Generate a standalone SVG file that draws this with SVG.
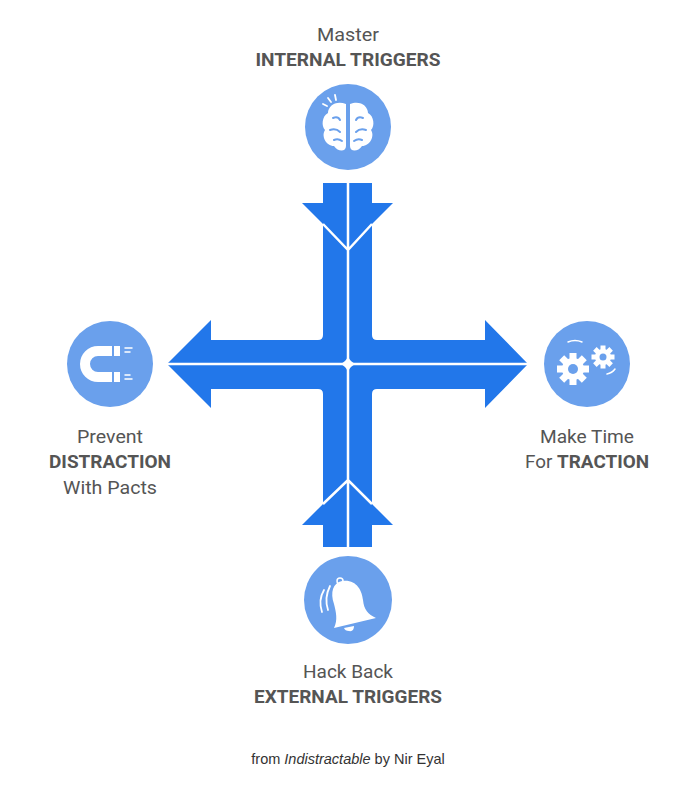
<svg xmlns="http://www.w3.org/2000/svg" width="697" height="790" viewBox="0 0 697 790">
<style>
.t{font-family:Roboto,"Liberation Sans",sans-serif;font-size:19px;fill:#555;text-anchor:middle}
.b{font-weight:bold}
.c{fill:#6aa0ec}
.w{fill:#fff}
.ws{fill:none;stroke:#fff;stroke-linecap:round}
.gap{stroke:#fff;stroke-width:2.5;fill:none}
</style>
<rect width="697" height="790" fill="#fff"/>
<g id="connectors">
<path fill="#2277ea" d="M323,183 H372 V203 H393 L372,224 V335 Q372,340 377,340 H485 V320 L528,364 L485,408 V389 H377 Q372,389 372,394 V504 L393,525 H372 V547 H323 V525 H302 L323,504 V394 Q323,389 318,389 H211 V408 L167,364 L211,320 V340 H318 Q323,340 323,335 V224 L302,203 H323 Z"/>
<path class="gap" d="M348,183 V547 M167,364 H528 M323,224 L348,250 L372,224 M323,504 L348,480 L372,504"/>
<path class="w" d="M348,356 Q350,362 356,364 Q350,366 348,372 Q346,366 340,364 Q346,362 348,356 Z"/>
</g>
<g id="internal">
<circle class="c" cx="348" cy="127" r="43"/>
<path class="w" d="M346,104 C336,100 328,106 328,113 C322,116 321,126 325,130 C321,136 326,146 334,146 C338,152 346,152 346,146 Z M350,104 C360,100 368,106 368,113 C374,116 375,126 371,130 C375,136 370,146 362,146 C358,152 350,152 350,146 Z"/>
<path class="ws" style="stroke:#6aa0ec" stroke-width="2" d="M333,118 Q338,116 340,120 M356,120 Q358,116 363,118 M330,130 Q336,128 340,132 M356,132 Q360,128 366,130 M334,140 Q338,138 342,141 M354,141 Q358,138 362,140"/>
<path class="ws" stroke-width="1.8" d="M328,98 L331,102 M335,95 L336,100 M323,104 L327,106"/>
<text class="t" x="348" y="41" textLength="62" lengthAdjust="spacingAndGlyphs">Master</text>
<text class="t b" x="348" y="66" textLength="185" lengthAdjust="spacingAndGlyphs">INTERNAL TRIGGERS</text>
</g>
<g id="distraction">
<circle class="c" cx="110" cy="364" r="43"/>
<path class="w" d="M112,346 H98 A18,18 0 0 0 98,382 H112 V372 H98 A8,8 0 0 1 98,356 H112 Z"/>
<rect class="c" x="113" y="346" width="1" height="36"/>
<rect class="w" x="114" y="346" width="6" height="10"/>
<rect class="w" x="114" y="372" width="6" height="10"/>
<path class="ws" stroke-width="1.5" d="M125,348 H132 M125,352 H130 M125,375 H130 M125,379 H132"/>
<text class="t" x="110" y="443" textLength="66" lengthAdjust="spacingAndGlyphs">Prevent</text>
<text class="t b" x="110" y="468" textLength="122" lengthAdjust="spacingAndGlyphs">DISTRACTION</text>
<text class="t" x="110" y="494" textLength="94" lengthAdjust="spacingAndGlyphs">With Pacts</text>
</g>
<g id="traction">
<circle class="c" cx="587" cy="364" r="43"/>
<g transform="translate(573,369)">
<circle class="w" r="11"/>
<g class="w"><rect x="-3.5" y="-16" width="7" height="32"/><rect x="-3.5" y="-16" width="7" height="32" transform="rotate(45)"/><rect x="-3.5" y="-16" width="7" height="32" transform="rotate(90)"/><rect x="-3.5" y="-16" width="7" height="32" transform="rotate(135)"/></g>
<circle class="c" r="5"/>
</g>
<g transform="translate(603,357)">
<circle class="w" r="8"/>
<g class="w"><rect x="-2.5" y="-11.5" width="5" height="23"/><rect x="-2.5" y="-11.5" width="5" height="23" transform="rotate(45)"/><rect x="-2.5" y="-11.5" width="5" height="23" transform="rotate(90)"/><rect x="-2.5" y="-11.5" width="5" height="23" transform="rotate(135)"/></g>
<circle class="c" r="3.5"/>
</g>
<path class="ws" stroke-width="1.5" d="M568,342 Q575,339 582,342 M607,374 Q612,373 615,369"/>
<text class="t" x="587" y="443" textLength="94" lengthAdjust="spacingAndGlyphs">Make Time</text>
<text class="t" x="587" y="468" textLength="124" lengthAdjust="spacingAndGlyphs"><tspan>For </tspan><tspan class="b">TRACTION</tspan></text>
</g>
<g id="external">
<circle class="c" cx="348" cy="600" r="44"/>
<path class="w" d="M342,581 C356,579 362,590 363,600 C364,610 368,614 376,618 L334,628 C338,620 336,612 334,604 C330,592 333,583 342,581 Z"/>
<circle class="ws" cx="340" cy="581" r="3" stroke-width="1.5"/>
<path class="w" d="M344,628 L354,626 Q354,632 349,631 Q345,631 344,628 Z"/>
<path class="ws" stroke-width="1.8" d="M324,590 Q318,600 322,612 M330,586 Q324,598 328,610"/>
<text class="t" x="348" y="678" textLength="90" lengthAdjust="spacingAndGlyphs">Hack Back</text>
<text class="t b" x="348" y="703" textLength="188" lengthAdjust="spacingAndGlyphs">EXTERNAL TRIGGERS</text>
</g>
<text x="348" y="764" style="font-family:'Liberation Sans',Arial,sans-serif;font-size:14.5px;fill:#333;text-anchor:middle">from <tspan font-style="italic">Indistractable</tspan> by Nir Eyal</text>
</svg>
